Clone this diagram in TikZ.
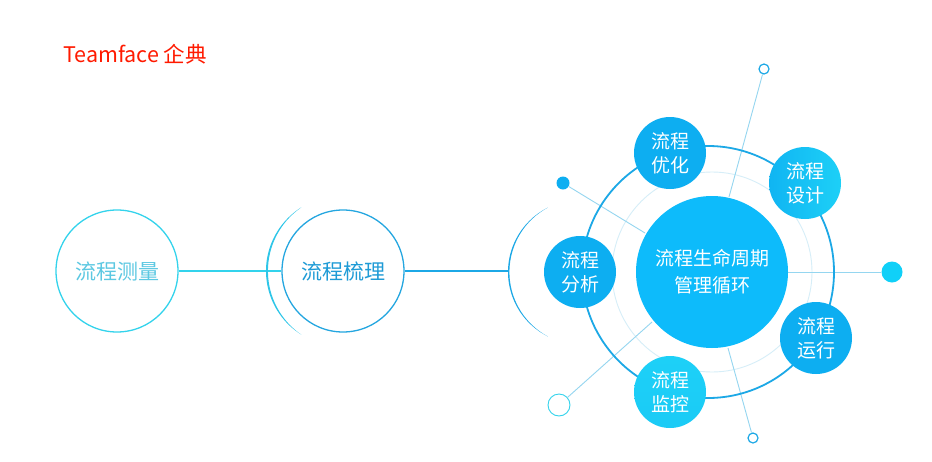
\documentclass[tikz,border=0pt]{standalone}
\usepackage{fontspec}
\setmainfont{Noto Sans CJK SC}
\usetikzlibrary{shadings}
\definecolor{titlered}{HTML}{FF1A00}
\definecolor{cyanline}{HTML}{33D3EC}
\definecolor{measuretext}{HTML}{5CC8E2}
\definecolor{sortblue}{HTML}{24A6E0}
\definecolor{sorttext}{HTML}{1E9BD6}
\definecolor{ringblue}{HTML}{1CA8E6}
\definecolor{faintring}{HTML}{D6EEF8}
\definecolor{spoke}{HTML}{95D6F0}
\definecolor{maincol}{HTML}{0DBBFB}
\definecolor{satblue}{HTML}{0DAEF1}
\definecolor{satcyan}{HTML}{1DD0F7}
\definecolor{dotcyan}{HTML}{10D0F8}
\tikzset{
  x=1pt, y=-1pt,
  bigring/.style={circle, minimum size=122pt, inner sep=0pt, line width=1.3pt, font=\fontsize{21}{24}\selectfont},
  sat/.style={circle, minimum size=72pt, inner sep=0pt, text=white, align=center,
    font=\fontsize{19}{24}\selectfont},
  spokeline/.style={spoke, line width=0.9pt},
  hollowdot/.style={circle, draw=#1, line width=1.2pt, fill=white, inner sep=0pt},
}
\begin{document}
\begin{tikzpicture}
\useasboundingbox (0,0) rectangle (932,461);
\fill[white] (0,0) rectangle (932,461);

% title
\node[anchor=west, text=titlered, font=\fontsize{21.5}{24}\selectfont, inner sep=0pt] (title) at (63,54) {Teamface 企典};

% rings around cycle
\coordinate (ringc) at (708,272);
\draw[faintring, line width=0.9pt] (712,272) circle[radius=100];

% spokes (behind everything)
\node[hollowdot=ringblue, minimum size=10pt] (topdot) at (764,69) {};
\node[hollowdot=ringblue, minimum size=10pt] (botdot) at (753,438) {};
\node[circle, fill=satblue, minimum size=13pt, inner sep=0pt] (uldot) at (563,183) {};
\node[hollowdot=cyanline, minimum size=22pt, line width=0.9pt] (lldot) at (559,405) {};
\node[circle, fill=dotcyan, minimum size=21pt, inner sep=0pt] (rdot) at (892,272) {};
\coordinate (sptop) at (729,197);
\coordinate (spbot) at (728,348);
\coordinate (spul) at (645,233);
\coordinate (spll) at (652,322);
\coordinate (spr) at (788,272);
\draw[spokeline] (topdot) -- (sptop);
\draw[spokeline] (botdot) -- (spbot);
\draw[spokeline] (uldot) -- (spul);
\draw[spokeline] (lldot) -- (spll);
\draw[spokeline] (rdot) -- (spr);

\draw[ringblue, line width=1.8pt] (ringc) circle[radius=126];

% main circle
\node[circle, fill=maincol, minimum size=152pt, inner sep=0pt, text=white, align=center,
  font=\fontsize{19}{27}\selectfont] (main) at (712,272) {流程生命周期\\管理循环};

% satellites
\node[sat, fill=satblue] (opt) at (670,153) {流程\\优化};
\node[sat, left color=satblue!80!satcyan, right color=satcyan] (design) at (805,183) {流程\\设计};
\node[sat, fill=satblue] (anal) at (580,272) {流程\\分析};
\node[sat, fill=satblue] (run) at (816,338) {流程\\运行};
\node[sat, top color=satcyan, bottom color=satcyan!85!satblue] (mon) at (670,392) {流程\\监控};

% left chain
\node[bigring, draw=cyanline, text=measuretext] (measure) at (117,271) {流程测量};
\node[bigring, draw=sortblue, text=sorttext] (sort) at (343,271) {流程梳理};
\draw[cyanline, line width=1.2pt] (measure) -- (sort);

% crescent around sort
\fill[cyanline!70!sortblue] (341,271) ++(122:75) arc[start angle=122, end angle=238, radius=75]
  arc[start angle=235.3, end angle=124.7, radius=77.4] -- cycle;

% thin arc around analysis
\fill[ringblue] (580,272) ++(116.6:72) arc[start angle=116.6, end angle=243.4, radius=72]
  arc[start angle=241.5, end angle=118.5, radius=73.3] -- cycle;
\coordinate (arcleft) at (509,271);
\draw[ringblue, line width=1.2pt] (sort) -- (arcleft);
\end{tikzpicture}
\end{document}
